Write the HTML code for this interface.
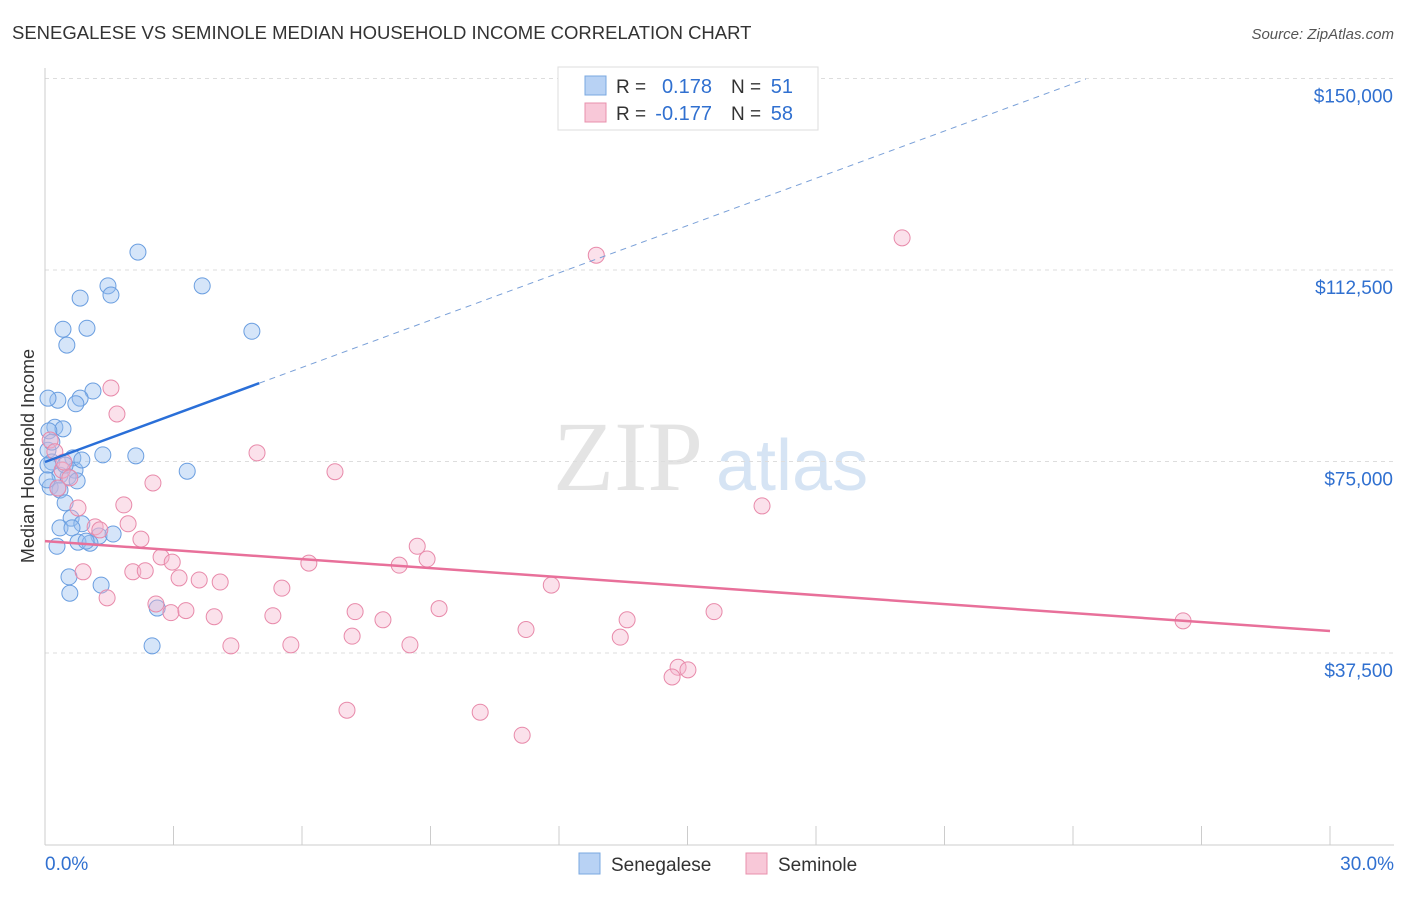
<!DOCTYPE html>
<html><head><meta charset="utf-8"><style>
body{margin:0;background:#fff;font-family:"Liberation Sans",sans-serif;}
</style></head><body>
<svg id="c" width="1406" height="892" xmlns="http://www.w3.org/2000/svg">
<text x="12" y="39" font-size="18.5" fill="#333">SENEGALESE VS SEMINOLE MEDIAN HOUSEHOLD INCOME CORRELATION CHART</text>
<text x="1394" y="39" font-size="15" fill="#555" font-style="italic" text-anchor="end">Source: ZipAtlas.com</text>
<text x="553" y="490" font-size="100" fill="#e4e4e4" font-family="Liberation Serif,serif">ZIP</text>
<text x="716" y="490" font-size="72" fill="#d6e4f4">atlas</text>
<text transform="translate(34,456) rotate(-90)" font-size="18" fill="#333" text-anchor="middle">Median Household Income</text>
<g id="grid"></g><g id="pts"></g><g id="lines"></g>
<g>
<rect x="558" y="67" width="260" height="63" fill="#fff" stroke="#ddd"/>
<rect x="585" y="76" width="21" height="19" fill="#b8d2f4" stroke="#7aa8e0"/>
<rect x="585" y="103" width="21" height="19" fill="#f8c8d8" stroke="#e890ac"/>
<text x="616" y="93" font-size="19" fill="#333">R =</text>
<text x="712" y="93" font-size="20" fill="#3070d0" text-anchor="end">0.178</text>
<text x="731" y="93" font-size="19" fill="#333">N =</text>
<text x="793" y="93" font-size="20" fill="#3070d0" text-anchor="end">51</text>
<text x="616" y="120" font-size="19" fill="#333">R =</text>
<text x="712" y="120" font-size="20" fill="#3070d0" text-anchor="end">-0.177</text>
<text x="731" y="120" font-size="19" fill="#333">N =</text>
<text x="793" y="120" font-size="20" fill="#3070d0" text-anchor="end">58</text>
</g>
<g>
<rect x="579" y="853" width="21" height="21" fill="#b8d2f4" stroke="#7aa8e0"/>
<text x="611" y="871" font-size="19" fill="#333">Senegalese</text>
<rect x="746" y="853" width="21" height="21" fill="#f8c8d8" stroke="#e890ac"/>
<text x="778" y="871" font-size="19" fill="#333">Seminole</text>
</g>
</svg>
<script>
const blueX=[2.17,1.47,1.54,0.82,3.67,0.42,0.98,4.83,0.51,1.12,0.82,0.30,0.07,0.72,0.23,0.42,0.09,1.35,2.12,0.65,0.07,0.16,0.70,3.32,0.35,0.54,0.75,0.12,0.35,0.47,0.61,0.86,0.35,0.63,1.26,1.59,0.77,1.05,0.28,0.56,0.58,1.31,2.62,2.50,0.07,0.16,0.30,0.05,0.47,0.86,0.96];
const blueY=[116.0,109.4,107.6,107.0,109.4,100.9,101.1,100.5,97.8,88.8,87.4,87.0,87.4,86.3,81.7,81.4,81.0,76.3,76.1,75.7,77.2,74.9,73.3,73.1,72.3,72.0,71.2,70.0,69.4,66.9,63.9,62.8,62.0,62.0,60.4,60.8,59.2,59.0,58.4,52.4,49.2,50.8,46.3,38.9,74.3,78.8,69.8,71.4,74.3,75.3,59.4];
const pinkX=[20.01,12.87,1.54,1.68,4.95,6.77,2.52,1.84,16.74,1.94,1.17,2.24,8.69,8.92,2.71,2.97,6.16,8.27,0.89,2.05,2.34,3.13,3.60,4.09,5.53,11.82,1.45,2.59,2.94,3.29,7.24,9.20,15.62,3.95,5.32,7.89,13.59,11.23,7.17,13.43,4.34,5.74,8.52,14.78,15.01,14.64,7.05,10.16,11.14,26.57,0.12,0.23,0.40,0.58,0.77,0.30,0.44,1.28];
const pinkY=[118.8,115.4,89.4,84.3,76.7,73.0,70.8,66.5,66.3,62.8,62.2,59.8,58.4,55.9,56.3,55.3,55.1,54.7,53.4,53.4,53.6,52.2,51.8,51.4,50.2,50.8,48.3,47.1,45.4,45.8,45.6,46.2,45.6,44.6,44.8,44.0,44.0,42.1,40.8,40.6,38.9,39.1,39.1,34.7,34.2,32.8,26.3,25.9,21.4,43.8,79.2,76.9,73.3,71.8,65.9,69.8,74.9,61.6];
const yTicks=[37.5,75,112.5,150];
const yTickLabels=["$37,500","$75,000","$112,500","$150,000"];
const blueTrend=[0,74.9,24.3,149.9,5.0];
const pinkTrend=[0,59.4,30,41.8];
const NS="http://www.w3.org/2000/svg";
const sx=v=>45+v/30*1285;
const sy=v=>844.5-v*191.5/37.5;
function mk(t,a,p){const e=document.createElementNS(NS,t);for(const k in a)e.setAttribute(k,a[k]);p.appendChild(e);return e;}
const g=document.getElementById('grid');
yTicks.forEach((t,i)=>{
 const l=mk('line',{x1:45,x2:1394,y1:sy(t),y2:sy(t),stroke:'#ddd','stroke-dasharray':'4,4'},g);
 
 
 const tx=mk('text',{x:1393,y:sy(t)+24,'font-size':19,fill:'#3070d0','text-anchor':'end'},g);
 tx.textContent=yTickLabels[i];
 
 
});
mk('line',{x1:45,x2:45,y1:68,y2:845,stroke:'#ccc'},g);
mk('line',{x1:45,x2:1394,y1:845,y2:845,stroke:'#ccc'},g);
for(let i=0;i<=10;i++){const l=mk('line',{x1:sx(i*3),x2:sx(i*3),y1:826,y2:845,stroke:'#ccc'},g);
 
 }
const x0=mk('text',{x:45,y:870,'font-size':19,fill:'#3070d0'},g);x0.textContent='0.0%';


const x1=mk('text',{x:1394,y:870,'font-size':19,fill:'#3070d0','text-anchor':'end'},g);x1.textContent='30.0%';


const p=document.getElementById('pts');
blueX.forEach((x,i)=>{const c=mk('circle',{cx:sx(x),cy:sy(blueY[i]),r:8,fill:'rgba(150,190,240,0.4)',stroke:'#6a9ee0','stroke-width':1},p);
 
 });
pinkX.forEach((x,i)=>{const c=mk('circle',{cx:sx(x),cy:sy(pinkY[i]),r:8,fill:'rgba(245,180,205,0.4)',stroke:'#e88aaa','stroke-width':1},p);
 
 });
const L=document.getElementById('lines');
const bAt=x=>blueTrend[1]+(blueTrend[3]-blueTrend[1])*(x-blueTrend[0])/(blueTrend[2]-blueTrend[0]);
const b1=mk('line',{x1:sx(blueTrend[0]),y1:sy(bAt(blueTrend[0])),x2:sx(blueTrend[4]),y2:sy(bAt(blueTrend[4])),stroke:'#2a6fd8','stroke-width':2.5},L);


const b2=mk('line',{x1:sx(blueTrend[4]),y1:sy(bAt(blueTrend[4])),x2:sx(blueTrend[2]),y2:sy(blueTrend[3]),stroke:'#7aa0d8','stroke-width':1,'stroke-dasharray':'6,5'},L);


const pl=mk('line',{x1:sx(pinkTrend[0]),y1:sy(pinkTrend[1]),x2:sx(pinkTrend[2]),y2:sy(pinkTrend[3]),stroke:'#e8709a','stroke-width':2.5},L);


</script>
</body></html>
